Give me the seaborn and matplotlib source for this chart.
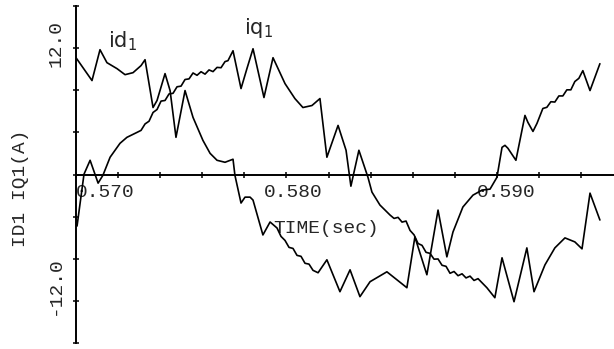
import numpy as np
import pandas as pd
import seaborn as sns
import matplotlib
matplotlib.use("Agg")
import matplotlib.pyplot as plt
from matplotlib.transforms import ScaledTranslation

# d-axis current trace (time in s, current in A)
t_id = [0.57000, 0.57076, 0.57114, 0.57147, 0.57195, 0.57233, 0.57271, 0.57309,
        0.57328, 0.57366, 0.57385, 0.57423, 0.57447, 0.57475, 0.57518, 0.57556,
        0.57603, 0.57637, 0.57670, 0.57708, 0.57746, 0.57755, 0.57784, 0.57803,
        0.57827, 0.57841, 0.57888, 0.57922, 0.57955,
        0.57974, 0.57993, 0.58012, 0.58031, 0.58050, 0.58069, 0.58088, 0.58107,
        0.58126, 0.58150,
        0.58192, 0.58254, 0.58302, 0.58349, 0.58397, 0.58477, 0.58572, 0.58610,
        0.58667, 0.58720, 0.58762, 0.58791, 0.58838, 0.58886, 0.58929, 0.58967,
        0.59000, 0.59024, 0.59038, 0.59052, 0.59090, 0.59133, 0.59147, 0.59171,
        0.59190, 0.59218,
        0.59237, 0.59256, 0.59275, 0.59294, 0.59313, 0.59332, 0.59351, 0.59370,
        0.59389, 0.59408,
        0.59442, 0.59489]
i_id = [11.09, 8.92, 11.85, 10.62, 10.05, 9.48, 9.67, 10.34,
        10.90, 6.36, 7.03, 9.58, 7.97, 3.53, 7.97, 5.42,
        3.24, 2.01, 1.35, 1.16, 1.45, -0.07, -2.71, -2.15,
        -2.15, -2.43, -5.74, -4.51, -5.08,
        -5.88, -6.26, -6.92, -7.02, -7.68, -7.77, -8.43, -8.51,
        -9.10, -9.33,
        -8.10, -11.13, -9.05, -11.60, -10.18, -9.24, -10.75, -5.93,
        -9.52, -3.38, -7.82, -5.46, -3.09, -1.96, -1.48, -1.39,
        -0.26, 2.58, 2.77, 2.49, 1.35, 5.61, 4.95, 4.09,
        4.85, 6.27,
        6.38, 6.91, 6.88, 7.46, 7.46, 8.04, 8.04, 8.83,
        9.13, 9.86,
        7.97, 10.52]

# q-axis current trace
t_iq = [0.57005, 0.57038, 0.57067, 0.57105, 0.57128, 0.57162, 0.57209, 0.57242,
        0.57290,
        0.57309, 0.57328, 0.57347, 0.57366, 0.57385, 0.57404, 0.57423, 0.57442,
        0.57461, 0.57480, 0.57499, 0.57518, 0.57537, 0.57556, 0.57575, 0.57594,
        0.57613, 0.57632, 0.57651, 0.57670, 0.57689, 0.57708, 0.57722,
        0.57746, 0.57784, 0.57812, 0.57841, 0.57893, 0.57936, 0.57993, 0.58040,
        0.58078, 0.58121, 0.58159, 0.58192, 0.58245, 0.58283, 0.58306, 0.58344,
        0.58387, 0.58406, 0.58444, 0.58492,
        0.58511, 0.58530, 0.58549, 0.58568, 0.58587, 0.58606, 0.58625, 0.58644,
        0.58663, 0.58682, 0.58701, 0.58720, 0.58739, 0.58758, 0.58777, 0.58796,
        0.58815, 0.58834, 0.58853, 0.58872, 0.58891, 0.58910,
        0.58952, 0.58990, 0.59024, 0.59081, 0.59142, 0.59176, 0.59228, 0.59275,
        0.59323, 0.59370, 0.59404, 0.59442, 0.59489]
i_iq = [-4.89, 0.03, 1.35, -0.82, -0.07, 1.64, 2.96, 3.53,
        4.00,
        4.19, 4.80, 5.06, 5.89, 6.17, 6.97, 7.03, 7.65,
        7.71, 8.33, 8.39, 9.02, 9.08, 9.64, 9.42, 9.76,
        9.53, 9.93, 9.77, 10.17, 10.14, 10.72, 10.81,
        11.75, 8.16, 10.05, 11.94, 7.31, 11.09, 8.63, 7.21,
        6.36, 6.55, 7.21, 1.64, 4.66, 2.30, -1.11, 2.30,
        -0.26, -1.67, -2.90, -3.85,
        -4.17, -4.07, -4.52, -4.42, -5.31, -5.73, -6.55, -6.73,
        -7.39, -7.49, -8.04, -8.02, -8.62, -8.72, -9.38, -9.21,
        -9.61, -9.43, -9.82, -9.65, -10.06, -9.89,
        -10.75, -11.70, -7.91, -12.08, -6.97, -11.13, -8.58, -6.97,
        -6.02, -6.40, -7.06, -1.77, -4.32]

x_tick_values = [0.570, 0.580, 0.590]
x_tick_labels = ["0.570", "0.580", "0.590"]
y_tick_values = [12.0, -12.0]
y_tick_labels = ["12.0", "-12.0"]

sns.set_style("white")
plt.rcParams["font.family"] = ["Liberation Mono", "DejaVu Sans"]

fig = plt.figure(figsize=(6.14, 3.49), dpi=100)
ax = fig.add_axes([76 / 614, 6 / 349, 538 / 614, 337 / 349])

d_frame = pd.DataFrame({"t": t_id, "i": i_id})
q_frame = pd.DataFrame({"t": t_iq, "i": i_iq})
sns.lineplot(data=d_frame, x="t", y="i", ax=ax, color="black", lw=1.2,
             estimator=None, sort=False)
sns.lineplot(data=q_frame, x="t", y="i", ax=ax, color="black", lw=1.2,
             estimator=None, sort=False)

ax.set_xlim(0.570, 0.59556)
ax.set_ylim(-16, 16)

for side in ("top", "right"):
    ax.spines[side].set_visible(False)
ax.spines["bottom"].set_position(("data", 0))
for side in ("bottom", "left"):
    ax.spines[side].set_linewidth(1.4)
    ax.spines[side].set_color("black")

# ticks: labelled majors plus unlabelled minors every 2 ms / 4 A
ax.set_xticks(x_tick_values, x_tick_labels)
ax.set_xticks(np.arange(0.570, 0.5955, 0.002), minor=True)
ax.set_yticks(y_tick_values, y_tick_labels)
ax.set_yticks(np.arange(-16, 16.1, 4), minor=True)
ax.tick_params(which="both", bottom=True, left=True, direction="inout",
               length=5, width=1.1, color="black", labelsize=14)
ax.tick_params(axis="x", pad=4)
ax.tick_params(axis="y", pad=6)

for lbl, dx in zip(ax.get_xticklabels(), [29, 7, 9]):
    lbl.set_transform(lbl.get_transform() + ScaledTranslation(dx / 100, 0, fig.dpi_scale_trans))
for lbl, dy in zip(ax.get_yticklabels(), [5, 15]):
    lbl.set_rotation(90)
    lbl.set_va("center")
    lbl.set_transform(lbl.get_transform() + ScaledTranslation(0, dy / 100, fig.dpi_scale_trans))

ax.set_xlabel("TIME(sec)", fontsize=14, va="center")
ax.xaxis.set_label_coords(0.465, 0.341)
ax.set_ylabel("ID1 IQ1(A)", fontsize=14, va="center")
ax.yaxis.set_label_coords(-0.104, 0.46)

ax.text(0.57219, 12.7, r"$\mathregular{id_1}$", fontsize=15, family="DejaVu Sans",
        ha="center", va="center")
ax.text(0.57869, 13.9, r"$\mathregular{iq_1}$", fontsize=15, family="DejaVu Sans",
        ha="center", va="center")

fig.savefig("out.png", dpi=100, facecolor="white")
